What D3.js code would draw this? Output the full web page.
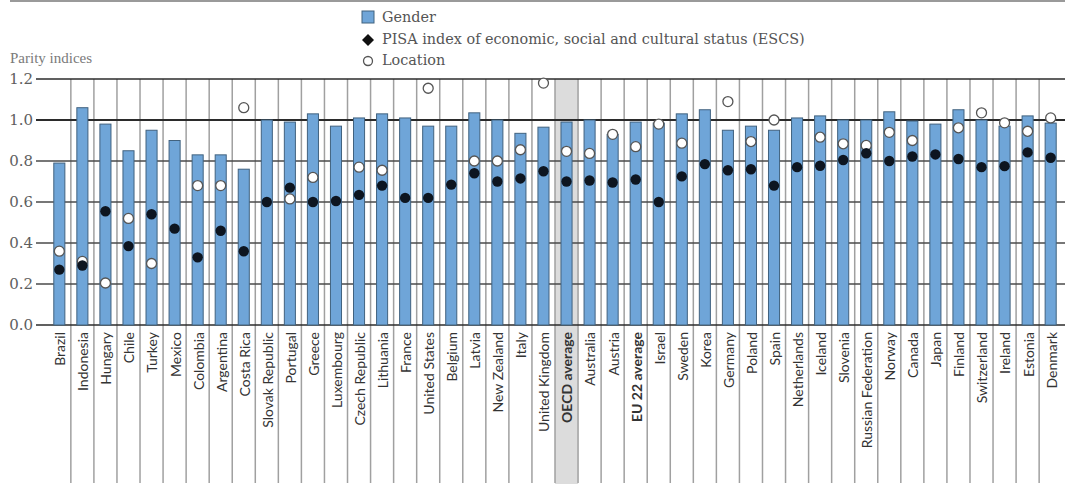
<!DOCTYPE html>
<html>
<head>
<meta charset="utf-8">
<script src="https://cdn.jsdelivr.net/npm/d3@7"></script>
<style>
  body { margin: 0; background: #fff; }
  svg { display: block; }
</style>
</head>
<body>
<div id="chart"></div>
<script>
let countries = ["Brazil", "Indonesia", "Hungary", "Chile", "Turkey", "Mexico", "Colombia",
  "Argentina", "Costa Rica", "Slovak Republic", "Portugal", "Greece", "Luxembourg",
  "Czech Republic", "Lithuania", "France", "United States", "Belgium", "Latvia",
  "New Zealand", "Italy", "United Kingdom", "OECD average", "Australia", "Austria",
  "EU 22 average", "Israel", "Sweden", "Korea", "Germany", "Poland", "Spain",
  "Netherlands", "Iceland", "Slovenia", "Russian Federation", "Norway", "Canada",
  "Japan", "Finland", "Switzerland", "Ireland", "Estonia", "Denmark"];

let gender = [0.79, 1.06, 0.98, 0.85, 0.95, 0.90, 0.83, 0.83, 0.76, 1.00, 0.99, 1.03, 0.97,
  1.01, 1.03, 1.01, 0.97, 0.97, 1.035, 1.00, 0.935, 0.965, 0.99, 1.00, 0.93, 0.99, 0.985,
  1.03, 1.05, 0.95, 0.97, 0.95, 1.01, 1.02, 1.00, 1.00, 1.04, 0.995, 0.98, 1.05, 1.00,
  0.97, 1.02, 0.985];

let escs = [0.27, 0.29, 0.555, 0.385, 0.54, 0.47, 0.33, 0.46, 0.36, 0.60, 0.67, 0.60, 0.605,
  0.635, 0.68, 0.62, 0.62, 0.685, 0.74, 0.70, 0.715, 0.75, 0.70, 0.705, 0.695, 0.71, 0.60,
  0.725, 0.785, 0.755, 0.76, 0.68, 0.77, 0.777, 0.805, 0.838, 0.80, 0.822, 0.832, 0.81,
  0.77, 0.775, 0.842, 0.816];

let locationIdx = [0.36, 0.31, 0.205, 0.52, 0.30, null, 0.68, 0.68, 1.06, null, 0.615, 0.72,
  null, 0.77, 0.755, null, 1.155, null, 0.80, 0.80, 0.855, 1.18, 0.847, 0.837, 0.93, 0.87,
  0.98, 0.887, null, 1.09, 0.895, 1.00, null, 0.916, 0.884, 0.876, 0.94, 0.90, null, 0.962,
  1.035, 0.986, 0.945, 1.01];

let yTicks = [0, 0.2, 0.4, 0.6, 0.8, 1.0, 1.2];
let boldLabels = ["OECD average", "EU 22 average"];

let svgWidth = 1065;
let svgHeight = 484;

let serif = "'DejaVu Serif', 'Liberation Serif', serif";
let sans = "Lato, 'Noto Sans', sans-serif";

let barFill = "#6fa5d8";
let barStroke = "#41627f";

let rows = countries.map((c, i) => ({
  country: c,
  gender: gender[i],
  escs: escs[i],
  location: locationIdx[i]
}));

// set the ranges
let x = d3.scaleBand()
  .domain(countries)
  .range([47.8, 1062.2])
  .padding(0);

let y = d3.scaleLinear()
  .domain([0, 1.2])
  .range([325, 79]);

let svg = d3.select("#chart")
  .append("svg")
  .attr("width", svgWidth)
  .attr("height", svgHeight);

// frame line at the very top
svg.append("line")
  .attr("x1", 10).attr("x2", svgWidth)
  .attr("y1", 1).attr("y2", 1)
  .attr("stroke", "#9a9a9a")
  .attr("stroke-width", 2);

// shaded OECD average column
svg.append("rect")
  .attr("x", x("OECD average"))
  .attr("y", y(1.2))
  .attr("width", x.bandwidth())
  .attr("height", svgHeight - y(1.2))
  .attr("fill", "#dcdcdc");

// vertical separators between countries, down through the label area
svg.append("g")
  .selectAll("line")
  .data(countries.slice(1))
  .enter()
  .append("line")
    .attr("x1", d => x(d))
    .attr("x2", d => x(d))
    .attr("y1", y(1.2))
    .attr("y2", 483)
    .attr("stroke", "#a0a0a0")
    .attr("stroke-width", 1.5);

// horizontal gridlines
svg.append("g")
  .selectAll("line")
  .data(yTicks)
  .enter()
  .append("line")
    .attr("x1", 36)
    .attr("x2", svgWidth)
    .attr("y1", d => y(d))
    .attr("y2", d => y(d))
    .attr("stroke", d => (d === 1.0 || d === 1.2 || d === 0) ? "#2b2b2b" : "#4a4a4a")
    .attr("stroke-width", d => d === 1.0 ? 2 : 1.5);

// y axis
let yAxis = svg.append("g")
  .attr("transform", "translate(36, 0)")
  .call(d3.axisLeft(y).tickValues(yTicks).tickSize(0).tickPadding(3).tickFormat(d3.format(".1f")));

yAxis.select(".domain").remove();
yAxis.selectAll("text")
  .attr("font-family", serif)
  .attr("font-size", 15)
  .attr("fill", "#5e5e5e");

svg.append("text")
  .attr("x", 10)
  .attr("y", 63)
  .attr("font-family", "'Liberation Serif', serif")
  .attr("font-size", 15)
  .attr("fill", "#7a7a7a")
  .text("Parity indices");

// gender bars
let barW = x.bandwidth() * 0.48;

svg.append("g")
  .selectAll(".bar")
  .data(rows)
  .enter()
  .append("rect")
    .attr("class", "bar")
    .attr("x", d => x(d.country) + (x.bandwidth() - barW) / 2)
    .attr("width", barW)
    .attr("y", d => y(d.gender))
    .attr("height", d => y(0) - y(d.gender))
    .attr("fill", barFill)
    .attr("stroke", barStroke)
    .attr("stroke-width", 1);

// location markers (hollow)
svg.append("g")
  .selectAll("circle")
  .data(rows.filter(d => d.location !== null))
  .enter()
  .append("circle")
    .attr("cx", d => x(d.country) + x.bandwidth() / 2)
    .attr("cy", d => y(d.location))
    .attr("r", 5)
    .attr("fill", "#fff")
    .attr("stroke", "#555")
    .attr("stroke-width", 1.3);

// ESCS markers
svg.append("g")
  .selectAll("circle")
  .data(rows)
  .enter()
  .append("circle")
    .attr("cx", d => x(d.country) + x.bandwidth() / 2)
    .attr("cy", d => y(d.escs))
    .attr("r", 5.2)
    .attr("fill", "#0d1520");

// country labels, rotated
svg.append("g")
  .selectAll("text")
  .data(countries)
  .enter()
  .append("text")
    .attr("transform", d => "translate(" + (x(d) + x.bandwidth() / 2 + 1) + ", 332) rotate(-90)")
    .attr("text-anchor", "end")
    .attr("dy", "0.35em")
    .attr("font-family", sans)
    .attr("font-size", 14)
    .attr("font-weight", d => boldLabels.includes(d) ? "bold" : "normal")
    .attr("fill", "#333")
    .text(d => d);

// legend
let legend = svg.append("g")
  .attr("transform", "translate(362, 0)");

legend.append("rect")
  .attr("x", 0).attr("y", 11)
  .attr("width", 12).attr("height", 12)
  .attr("fill", barFill)
  .attr("stroke", barStroke);

// square diamond, like the printed legend
legend.append("path")
  .attr("d", "M0,-6L6,0L0,6L-6,0Z")
  .attr("transform", "translate(6, 40)")
  .attr("fill", "#111");

legend.append("circle")
  .attr("cx", 6).attr("cy", 61)
  .attr("r", 4.5)
  .attr("fill", "#fff")
  .attr("stroke", "#555")
  .attr("stroke-width", 1.3);

let legendItems = ["Gender", "PISA index of economic, social and cultural status (ESCS)", "Location"];

legend.selectAll(".legendText")
  .data(legendItems)
  .enter()
  .append("text")
    .attr("class", "legendText")
    .attr("x", 20)
    .attr("y", (d, i) => 22 + i * 21.5)
    .attr("font-family", serif)
    .attr("font-size", 14.4)
    .attr("fill", "#555")
    .text(d => d);
</script>
</body>
</html>
